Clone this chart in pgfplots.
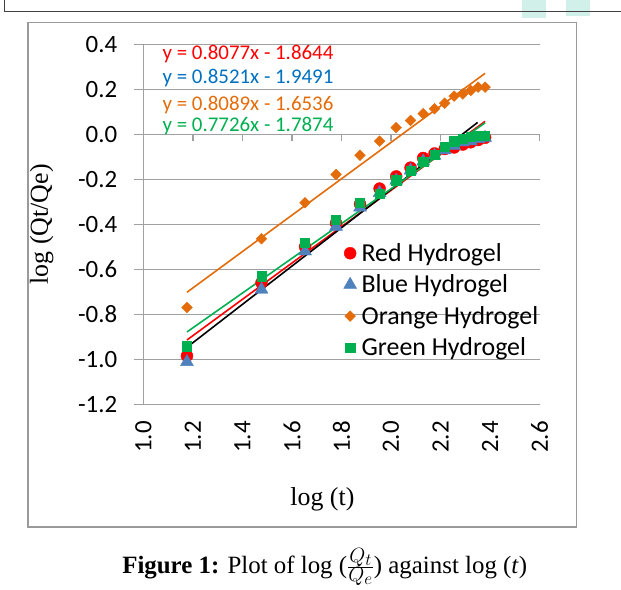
\documentclass[border=0pt]{standalone}
\usepackage{pgfplots}
\pgfplotsset{compat=1.18}
\usepackage{fontspec}
\setmainfont{Liberation Serif}
\newfontfamily\calibri{Carlito}

\definecolor{gridgray}{HTML}{A0A0A0}
\definecolor{boxgray}{HTML}{9A9A9A}
\definecolor{xlred}{HTML}{FF0000}
\definecolor{xlblue}{HTML}{4F81BD}
\definecolor{xlorange}{HTML}{E46C0A}
\definecolor{xlgreen}{HTML}{00B050}
\definecolor{eqblue}{HTML}{0070C0}
\definecolor{wmark}{HTML}{D2F0EA}

% log(t) and log(Qt/Qe) for the four hydrogels
\pgfplotstableread{
x     red    blue   orange green
1.176 -0.985 -1.012 -0.770 -0.942
1.477 -0.660 -0.690 -0.464 -0.631
1.653 -0.500 -0.520 -0.304 -0.482
1.778 -0.395 -0.410 -0.178 -0.379
1.875 -0.310 -0.325 -0.093 -0.304
1.954 -0.241 -0.260 -0.030 -0.264
2.021 -0.187 -0.205  0.030 -0.204
2.079 -0.148 -0.160  0.062 -0.163
2.130 -0.105 -0.120  0.092 -0.123
2.176 -0.085 -0.095  0.114 -0.089
2.217 -0.065 -0.070  0.139 -0.055
2.255 -0.058 -0.050  0.170 -0.030
2.290 -0.045 -0.035  0.180 -0.020
2.322 -0.035 -0.030  0.195 -0.010
2.352 -0.025 -0.020  0.210 -0.005
2.380 -0.015 -0.015  0.210 -0.005
}\data

\begin{document}
\begin{tikzpicture}
% page frame (image y measured from top: tikz y = 581 - y)
\path (0,0) rectangle (621bp,581bp);
\fill[wmark] (522bp,581bp) rectangle (546bp,563bp);
\fill[wmark] (566bp,581bp) rectangle (590bp,565bp);
\draw[black!75, line width=1bp] (5bp,581bp) -- (5bp,570bp) -- (621bp,570bp);
\draw[boxgray, line width=1.3bp] (28bp,559bp) rectangle (577bp,54bp);

\begin{axis}[
  at={(143.5bp,177bp)}, anchor=south west,
  width=396.5bp, height=360bp, scale only axis,
  xmin=1.0, xmax=2.6, ymin=-1.2, ymax=0.4,
  axis lines*=left,
  x axis line style={draw=none},
  y axis line style={draw=gridgray, line width=1.3bp},
  ymajorgrids, grid style={draw=gridgray, line width=1.3bp},
  tick align=outside, major tick length=9bp,
  ytick={-1.2,-1.0,-0.8,-0.6,-0.4,-0.2,0,0.2,0.4},
  yticklabels={-1.2,-1.0,-0.8,-0.6,-0.4,-0.2,0.0,0.2,0.4},
  xtick={1.0,1.2,1.4,1.6,1.8,2.0,2.2,2.4,2.6},
  xticklabels={1.0,1.2,1.4,1.6,1.8,2.0,2.2,2.4,2.6},
  xtick style={draw=none},
  ytick style={draw=gridgray, line width=1.3bp},
  yticklabel style={font=\calibri\fontsize{25}{30}\selectfont, anchor=east, inner sep=0pt},
  yticklabel shift=17bp,
  xticklabel style={font=\calibri\fontsize{25}{30}\selectfont, rotate=90, anchor=east, inner sep=0pt},
  xticklabel shift=8bp,
  xlabel={log (t)},
  ylabel={log (Qt/Qe)},
  label style={font=\fontsize{26}{30}\selectfont},
  xlabel style={at={(axis description cs:0.452,-0.265)}, anchor=center},
  ylabel style={at={(axis description cs:-0.257,0.5)}, anchor=center},
  legend style={draw=none, fill=none, font=\calibri\fontsize{26}{30}\selectfont,
    at={(axis description cs:0.505,0.45)}, anchor=north west,
    row sep=10bp, column sep=4bp, inner sep=0pt, nodes={inner sep=1bp}},
  legend cell align=left,
  clip=false,
]
\addplot[only marks, mark=*, mark size=6bp, xlred] table[x=x,y=red] {\data};
\addlegendentry{Red Hydrogel}
\addplot[only marks, mark=triangle*, mark size=7.5bp, xlblue] table[x=x,y=blue] {\data};
\addlegendentry{Blue Hydrogel}
\addplot[only marks, mark=square*, mark size=3.8bp, mark options={rotate=45}, xlorange] table[x=x,y=orange] {\data};
\addlegendentry{Orange Hydrogel}
\addplot[only marks, mark=square*, mark size=4.6bp, xlgreen] table[x=x,y=green] {\data};
\addlegendentry{Green Hydrogel}

% linear trendlines
\addplot[xlred, line width=1.6bp, forget plot] coordinates {(1.176,-0.9146) (2.380,0.0579)};
\addplot[black, line width=1.6bp, forget plot] coordinates {(1.176,-0.9470) (2.350,0.0533)};
\addplot[xlorange, line width=1.6bp, forget plot] coordinates {(1.176,-0.7023) (2.380,0.2716)};
\addplot[xlgreen, line width=1.6bp, forget plot] coordinates {(1.176,-0.8788) (2.380,0.0514)};

% x-axis tick marks on the zero line
\pgfplotsinvokeforeach{1.2,1.4,1.6,1.8,2.0,2.2,2.4,2.6}{
  \draw[gridgray, line width=1.3bp] (axis cs:#1,0) -- ([yshift=-7bp]axis cs:#1,0);
}

\node[anchor=west, inner sep=0pt, font=\calibri\fontsize{21}{25}\selectfont, text=xlred] at (axis cs:1.077,0.356) {y = 0.8077x - 1.8644};
\node[anchor=west, inner sep=0pt, font=\calibri\fontsize{21}{25}\selectfont, text=eqblue] at (axis cs:1.077,0.249) {y = 0.8521x - 1.9491};
\node[anchor=west, inner sep=0pt, font=\calibri\fontsize{21}{25}\selectfont, text=xlorange] at (axis cs:1.077,0.129) {y = 0.8089x - 1.6536};
\node[anchor=west, inner sep=0pt, font=\calibri\fontsize{21}{25}\selectfont, text=xlgreen] at (axis cs:1.077,0.036) {y = 0.7726x - 1.7874};
\end{axis}

\node[font=\fontsize{25}{30}\selectfont] at (325bp,14bp) {\textbf{Figure 1:} Plot of log ({\fontsize{32}{32}\selectfont$\frac{Q_t}{Q_e}$}) against log (\textit{t})};
\end{tikzpicture}
\end{document}
